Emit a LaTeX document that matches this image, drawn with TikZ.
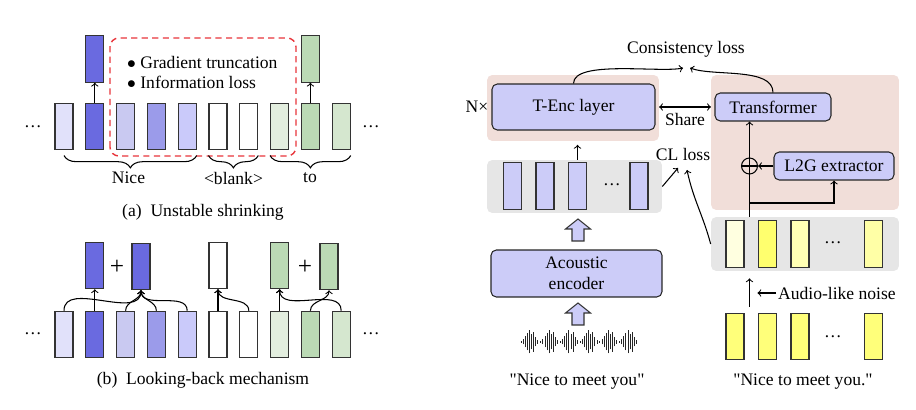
\documentclass[tikz,border=0pt]{standalone}
\usepackage{fontspec}
\setmainfont{Liberation Serif}
\usetikzlibrary{positioning,decorations.pathreplacing,calc}

\definecolor{blueD}{HTML}{6A6AE0}
\definecolor{blueM}{HTML}{9B9BEA}
\definecolor{blueL}{HTML}{C9C9F1}
\definecolor{blueVL}{HTML}{E1E1FA}
\definecolor{blueP}{HTML}{CACAFA}
\definecolor{greenVL}{HTML}{E3EEDF}
\definecolor{greenM}{HTML}{BBDAB5}
\definecolor{greenL}{HTML}{D5E7CF}
\definecolor{lav}{HTML}{CCCCF8}
\definecolor{pinkbg}{HTML}{F1DED9}
\definecolor{graybg}{HTML}{E6E6E6}
\definecolor{yVL}{HTML}{FFFFE0}
\definecolor{yD}{HTML}{FFFF6E}
\definecolor{yL}{HTML}{FFFFB4}
\definecolor{yM}{HTML}{FFFFA6}
\definecolor{yB}{HTML}{FFFF7A}
\definecolor{dashred}{HTML}{E8343A}

\tikzset{
  bar/.style={draw=black!80, line width=0.6pt, minimum width=0.36cm, minimum height=0.93cm, inner sep=0pt},
  blk/.style={draw=black!85, line width=0.6pt, fill=lav, rounded corners=3pt, inner sep=0pt},
  bgbox/.style={rounded corners=3pt, inner sep=0pt},
  brc/.style={decorate, decoration={brace, mirror, amplitude=7pt}, line width=0.6pt},
  con/.style={->, line width=0.6pt},
  blkarrow/.style={draw=black!80, line width=0.6pt, fill=lav},
  wave/.style={line width=0.55pt, black!85},
  dots/.style={inner sep=0pt}
}

\begin{document}
\begin{tikzpicture}[x=0.02cm, y=0.02cm]
\useasboundingbox (0,0) rectangle (916,409);

\foreach \c [count=\i] in {blueVL,blueD,blueL,blueM,blueP,white,white,greenVL,greenM,greenL}
  \node[bar, fill=\c] (a\i) at ({64+30.8*(\i-1)},282.5) {};
\node[bar, fill=blueD, above=0.4cm of a2] (ta2) {};
\node[bar, fill=greenM, above=0.4cm of a9] (ta9) {};
\draw[con] (a2) -- (ta2);
\draw[con] (a9) -- (ta9);
\node[dots] (dla) at (33,282) {…};
\node[dots] (dra) at (371,282) {…};
\draw[dashred, dashed, line width=0.8pt, dash pattern=on 3.5pt off 2.5pt, rounded corners=5pt] (110,253) rectangle (296,371);
\node[anchor=west] (trunc) at (121,347) {$\bullet$ Gradient truncation};
\node[anchor=west] (infol) at (121,327) {$\bullet$ Information loss};
\draw[brc] ([yshift=-3pt]a1.south) -- ([yshift=-3pt]a5.south east);
\draw[brc] ([yshift=-3pt]a6.south west) -- ([yshift=-3pt]a7.south east);
\draw[brc] ([yshift=-3pt]a8.south west) -- ([yshift=-3pt]a10.south east);
\node (nice) at (128.5,231) {Nice};
\node (blank) at (233.5,231) {<blank>};
\node (to) at (310,231) {to};
\node (capa) at (203,197) {(a)\enspace Unstable shrinking};

\foreach \c [count=\i] in {blueVL,blueD,blueL,blueM,blueP,white,white,greenVL,greenM,greenL}
  \node[bar, fill=\c] (b\i) at ({64+30.8*(\i-1)},74.5) {};
\node[bar, fill=blueD, above=0.43cm of b2] (tb2) {};
\node[bar, fill=blueD] (tb4) at (141,142.5) {};
\node[bar, fill=white, above=0.43cm of b6] (tb6) {};
\node[bar, fill=greenM, above=0.43cm of b8] (tb8) {};
\node[bar, fill=greenM] (tb9) at (329,142.5) {};
\node (plusb) at (117,142) {\Large +};
\node (plusg) at (305,142) {\Large +};
\draw[con] (b2) -- (tb2);
\foreach \i in {1,3,4,5}
  \draw[con] (b\i.north) to[out=90, in=-90] (tb4.south);
\draw[con] (b6) -- (tb6);
\draw[con] (b7.north) to[out=90, in=-90] (tb6.south);
\draw[con] (b8) -- (tb8);
\draw[con] (b10.north) to[out=90, in=-90] (tb8.south);
\draw[con] (b9.north) to[out=90, in=-90] (tb9.south);
\node[dots] (dlb) at (33,75) {…};
\node[dots] (drb) at (371,75) {…};
\node (capb) at (203,29) {(b)\enspace Looking-back mechanism};

\node[bgbox, fill=pinkbg, minimum width=3.44cm, minimum height=1.32cm] (lpink) at (573,301) {};
\node[bgbox, fill=pinkbg, minimum width=3.76cm, minimum height=2.7cm] (rpink) at (805,266.5) {};
\node[blk, minimum width=3.26cm, minimum height=0.92cm] (tenc) at (573.5,302) {T-Enc layer};
\node (nx) at (477,302) {N×};
\node[blk, minimum width=2.32cm, minimum height=0.56cm] (trans) at (773,302) {Transformer};
\node[blk, minimum width=2.4cm, minimum height=0.56cm] (l2g) at (834,243) {L2G extractor};
\node[draw, line width=0.6pt, circle, minimum size=0.32cm, inner sep=0pt,
  path picture={\draw[line width=0.6pt] (path picture bounding box.west) -- (path picture bounding box.east);}] (oplus) at (749.5,243) {};
\node (cons) at (686,360) {Consistency loss};
\coordinate (c1) at (683,341);
\coordinate (c2) at (690,341);
\draw[con] (tenc.north) to[out=90, in=192, looseness=0.55] (c1);
\draw[con] (trans.north) to[out=90, in=-20, looseness=0.75] (c2);
\draw[<->, line width=0.6pt, shorten <=2pt, shorten >=2pt] (tenc) -- node[below] (share) {Share} (trans);

\node[bgbox, fill=graybg, minimum width=3.5cm, minimum height=1.06cm] (lgray) at (574.5,222.5) {};
\foreach \x [count=\i] in {512.5,545,577.5,639}
  \node[bar, fill=lav] (e\i) at (\x,223) {};
\node[dots] (dle) at (612,224) {…};
\draw[con, shorten >=2pt] (e3 |- lgray.north) -- (e3 |- lpink.south);

\node[bgbox, fill=graybg, minimum width=3.76cm, minimum height=1.08cm] (rgray) at (805,165) {};
\foreach \x/\c [count=\i] in {735/yVL,767.5/yD,800/yL,873.5/yM}
  \node[bar, fill=\c] (y\i) at (\x,165) {};
\node[dots] (dry) at (833,166) {…};
\foreach \x [count=\i] in {735,767.5,800,873.5}
  \node[bar, fill=yB] (z\i) at (\x,72.5) {};
\node[dots] (drz) at (833,72) {…};

\coordinate (src) at (749.5,192);
\coordinate (br) at (749.5,206);
\draw[con] (src) -- (src |- trans.south);
\draw[con] (l2g) -- (oplus);
\draw[con] (br) -| (l2g.south);

\node (cl) at (683,255) {CL loss};
\coordinate (cl1) at (678,241);
\coordinate (cl2) at (687,239);
\draw[con] (lgray.east) -- (cl1);
\draw[con] (rgray.west) to[out=105, in=-78] (cl2);

\coordinate (nz) at (749.5,102);
\draw[con, shorten >=4pt] (nz) -- (nz |- rgray.south);
\node[anchor=west, inner sep=1pt] (noise) at (776,116) {Audio-like noise};
\draw[con, shorten >=4.5pt] (noise.west) -- (noise.west -| nz);

\node[blk, minimum width=3.42cm, minimum height=0.94cm, align=center] (acenc) at (576.5,135.5) {Acoustic\\encoder};
\foreach \yb in {84,168}
  \draw[blkarrow] (572,\yb) -- (584,\yb) -- (584,\yb+12) -- (590.5,\yb+12) -- (578,\yb+22) -- (565.5,\yb+12) -- (572,\yb+12) -- cycle;
\foreach \g in {0,...,5}
  \foreach \h [count=\k] in {2,5,11,17,23,15,20,9,4}
    \draw[wave] ({519+19.7*\g+2.1*\k},{67-\h/2}) -- ++(0,\h);

\node (txtl) at (577,27) {\textquotedbl Nice to meet you\textquotedbl};
\node (txtr) at (803,27) {\textquotedbl Nice to meet you.\textquotedbl};
\end{tikzpicture}
\end{document}
